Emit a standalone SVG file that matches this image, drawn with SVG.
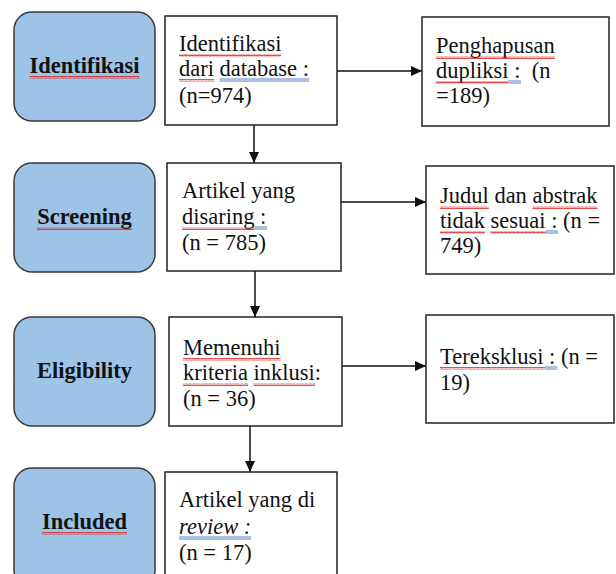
<svg xmlns="http://www.w3.org/2000/svg" width="616" height="574" viewBox="0 0 616 574">
<style>
.stage{fill:#9dc3e6;stroke:#3a3a3a;stroke-width:1.5}
.box{fill:#fff;stroke:#222;stroke-width:1.5}
.t{font-family:"Liberation Serif","Times New Roman",serif;font-size:22.5px;fill:#111}
.b{font-weight:bold;text-anchor:middle}
.conn{stroke:#111;stroke-width:1.5;fill:none}
.sq{fill:url(#squig)}
.bl{stroke:#4472c4;stroke-width:0.9}
</style>
<defs>
<marker id="ah" markerWidth="12" markerHeight="10" refX="11" refY="5" orient="auto" markerUnits="userSpaceOnUse">
<path d="M0 0 L11 5 L0 10 Z" fill="#111"/>
</marker>
<pattern id="squig" width="4" height="3" patternUnits="userSpaceOnUse">
<path d="M0 2.5 L1 0.5 L2 2.5 L3 0.5 L4 2.5" fill="none" stroke="#e02020" stroke-width="0.8"/>
</pattern>
</defs>

<g id="connectors">
<line class="conn" x1="337" y1="71" x2="422" y2="71" marker-end="url(#ah)"/>
<line class="conn" x1="341" y1="202" x2="426" y2="202" marker-end="url(#ah)"/>
<line class="conn" x1="342" y1="366" x2="426" y2="366" marker-end="url(#ah)"/>
<line class="conn" x1="254" y1="125" x2="254" y2="163" marker-end="url(#ah)"/>
<line class="conn" x1="255" y1="271" x2="255" y2="317" marker-end="url(#ah)"/>
<line class="conn" x1="250" y1="426" x2="250" y2="472" marker-end="url(#ah)"/>
</g>

<g id="stage-identifikasi">
<rect class="stage" x="14" y="12" width="141" height="109" rx="18"/>
<text class="t b" x="84.5" y="73">Identifikasi</text>
<rect class="sq" x="29.5" y="76" width="110" height="3"/>
</g>
<g id="stage-screening">
<rect class="stage" x="14" y="163" width="141" height="109" rx="18"/>
<text class="t b" x="84.5" y="224">Screening</text>
<rect class="sq" x="37" y="227" width="95" height="3"/>
</g>
<g id="stage-eligibility">
<rect class="stage" x="14" y="317" width="141" height="109" rx="18"/>
<text class="t b" x="84.5" y="378">Eligibility</text>
</g>
<g id="stage-included">
<rect class="stage" x="14" y="468" width="141" height="120" rx="18"/>
<text class="t b" x="84.5" y="529">Included</text>
<rect class="sq" x="42" y="532" width="85" height="3"/>
</g>

<g id="box-identifikasi">
<rect class="box" x="165" y="16" width="172" height="109"/>
<text class="t" x="179" y="51">Identifikasi</text>
<text class="t" x="179" y="76">dari database :</text>
<text class="t" x="179" y="103">(n=974)</text>
<rect class="sq" x="179" y="54" width="102" height="3"/>
<rect class="sq" x="179" y="79" width="35" height="3"/>
<line class="bl" x1="219.6" y1="79" x2="309" y2="79"/>
<line class="bl" x1="219.6" y1="81" x2="309" y2="81"/>
</g>

<g id="box-penghapusan">
<rect class="box" x="422" y="17" width="187" height="109"/>
<text class="t" x="436" y="53">Penghapusan</text>
<text class="t" x="436" y="78">dupliksi :&#160; (n</text>
<text class="t" x="436" y="103">=189)</text>
<rect class="sq" x="436" y="56" width="118.7" height="3"/>
<rect class="sq" x="436" y="81" width="72.5" height="3"/>
<line class="bl" x1="508.5" y1="81" x2="521" y2="81"/>
<line class="bl" x1="508.5" y1="83" x2="521" y2="83"/>
</g>

<g id="box-screening">
<rect class="box" x="167" y="163" width="174" height="108"/>
<text class="t" x="182" y="198">Artikel yang</text>
<text class="t" x="182" y="224">disaring :</text>
<text class="t" x="182" y="250">(n = 785)</text>
<rect class="sq" x="182" y="227" width="72.5" height="3"/>
<line class="bl" x1="254.5" y1="227" x2="267" y2="227"/>
<line class="bl" x1="254.5" y1="229" x2="267" y2="229"/>
</g>

<g id="box-judul">
<rect class="box" x="426" y="166" width="188" height="108"/>
<text class="t" x="440" y="203">Judul dan abstrak</text>
<text class="t" x="440" y="228">tidak sesuai : (n =</text>
<text class="t" x="440" y="253">749)</text>
<rect class="sq" x="440" y="206" width="48.8" height="3"/>
<rect class="sq" x="532.5" y="206" width="65" height="3"/>
<rect class="sq" x="440" y="231" width="45" height="3"/>
<rect class="sq" x="490.6" y="231" width="55" height="3"/>
<line class="bl" x1="545.6" y1="231" x2="558" y2="231"/>
<line class="bl" x1="545.6" y1="233" x2="558" y2="233"/>
</g>

<g id="box-memenuhi">
<rect class="box" x="169" y="317" width="173" height="109"/>
<text class="t" x="183" y="355">Memenuhi</text>
<text class="t" x="183" y="380">kriteria inklusi:</text>
<text class="t" x="183" y="406">(n = 36)</text>
<rect class="sq" x="183" y="358" width="97.5" height="3"/>
<rect class="sq" x="183" y="383" width="65" height="3"/>
<rect class="sq" x="253.6" y="383" width="61.3" height="3"/>
</g>

<g id="box-tereksklusi">
<rect class="box" x="426" y="315" width="188" height="108"/>
<text class="t" x="440" y="364">Tereksklusi : (n =</text>
<text class="t" x="440" y="390">19)</text>
<rect class="sq" x="440" y="367" width="105" height="3"/>
<line class="bl" x1="545" y1="367" x2="557.4" y2="367"/>
<line class="bl" x1="545" y1="369" x2="557.4" y2="369"/>
</g>

<g id="box-included">
<rect class="box" x="165" y="472" width="172" height="120"/>
<text class="t" x="179" y="507">Artikel yang di</text>
<text class="t" x="179" y="534"><tspan font-style="italic">review</tspan> <tspan font-style="italic">:</tspan></text>
<text class="t" x="179" y="560">(n = 17)</text>
<line class="bl" x1="179" y1="537" x2="251" y2="537"/>
<line class="bl" x1="179" y1="539" x2="251" y2="539"/>
</g>
</svg>
